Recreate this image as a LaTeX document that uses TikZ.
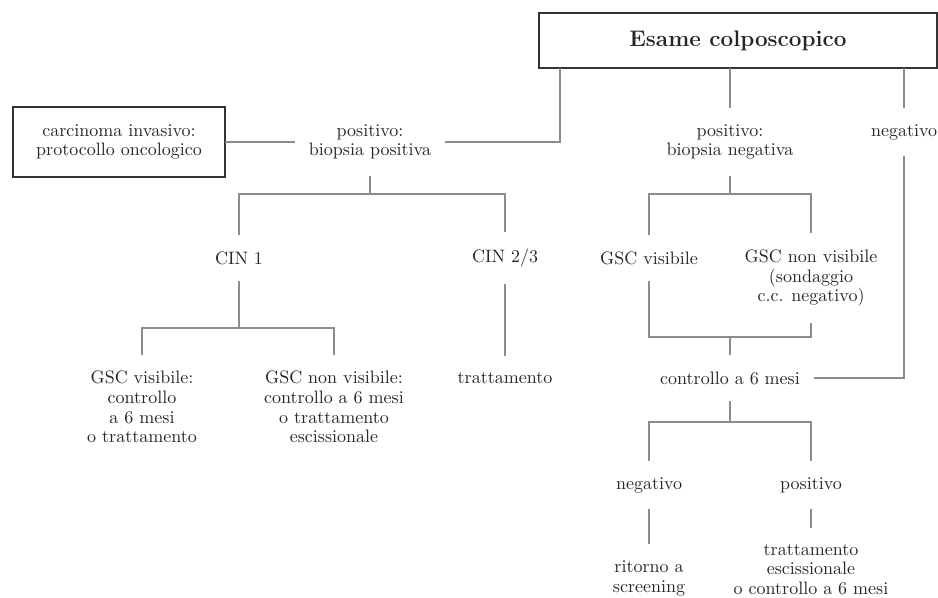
\documentclass[tikz,border=0pt]{standalone}
\usepackage{tikz}
\usetikzlibrary{positioning}
\tikzset{font=\fontsize{10.8}{11.7}\selectfont}
\tikzset{lbl/.style={align=center, inner sep=0pt, outer xsep=8.5pt,
    outer ysep=10pt, text=black!85}}
\tikzset{frame/.style={draw=black!80, line width=1.1pt, align=center,
    inner sep=0pt, outer sep=0pt, text=black!85}}
\tikzset{link/.style={draw=black!45, line width=0.8pt}}

\begin{document}
\begin{tikzpicture}[x=0.6pt, y=-0.6pt]
  \useasboundingbox (0,0) rectangle (938,598);
  % boxes
  \node[frame, minimum width=238.8pt, minimum height=33pt,
    font=\fontsize{13.5}{16}\selectfont\bfseries] (esame) at (738,40.5) {Esame colposcopico};
  \node[frame, minimum width=127.2pt, minimum height=42pt] (carc) at (119,142)
    {carcinoma invasivo:\\protocollo oncologico};
  % first level
  \node[lbl] (pbp) at (370,142) {positivo:\\biopsia positiva};
  \node[lbl] (pbn) at (730,142) {positivo:\\biopsia negativa};
  \node[lbl] (neg) at (904,132) {negativo};
  % biopsia positiva
  \node[lbl] (cin1) at (239,258) {CIN 1};
  \node[lbl] (cin23) at (505,258) {CIN 2/3};
  \node[lbl] (gscv1) at (142,407) {GSC visibile:\\controllo\\a 6 mesi\\o trattamento};
  \node[lbl] (gscnv1) at (334,407) {GSC non visibile:\\controllo a 6 mesi\\o trattamento\\escissionale};
  \node[lbl] (tratt) at (505,378) {trattamento};
  % biopsia negativa
  \node[lbl] (gscv2) at (649,258) {GSC visibile};
  \node[lbl] (gscnv2) at (811,278) {GSC non visibile\\(sondaggio\\c.c. negativo)};
  \node[lbl] (ctrl) at (730,378) {controllo a 6 mesi};
  \node[lbl] (neg2) at (649,485) {negativo};
  \node[lbl] (pos2) at (811,485) {positivo};
  \node[lbl] (ritorno) at (649,578.5) {ritorno a\\screening};
  \node[lbl] (escis) at (811,569.5) {trattamento\\escissionale\\o controllo a 6 mesi};
  % junctions
  \coordinate (kpos) at (560,142);
  \coordinate (jpp) at (370,194);
  \coordinate (jcin) at (239,328);
  \coordinate (jpn) at (730,194);
  \coordinate (jgsc) at (730,337);
  \coordinate (jctrl) at (730,422);
  % connectors
  \draw[link] (esame.south -| kpos) -- (kpos) -- (pbp);
  \draw[link] (carc) -- (pbp);
  \draw[link] (esame.south -| pbn) -- (pbn);
  \draw[link] (esame.south -| neg) -- (neg);
  \draw[link] (neg) |- (ctrl);
  \draw[link] (pbp) -- (jpp);
  \draw[link] (cin1) |- (jpp) -| (cin23);
  \draw[link] (cin1) -- (jcin);
  \draw[link] (gscv1) |- (jcin) -| (gscnv1);
  \draw[link] (cin23) -- (tratt);
  \draw[link] (pbn) -- (jpn);
  \draw[link] (gscv2) |- (jpn) -| (gscnv2);
  \draw[link] (gscv2) |- (jgsc) -| (gscnv2);
  \draw[link] (jgsc) -- (ctrl);
  \draw[link] (ctrl) -- (jctrl);
  \draw[link] (neg2) |- (jctrl) -| (pos2);
  \draw[link] (neg2) -- (ritorno);
  \draw[link] (pos2) -- (escis);
\end{tikzpicture}
\end{document}
